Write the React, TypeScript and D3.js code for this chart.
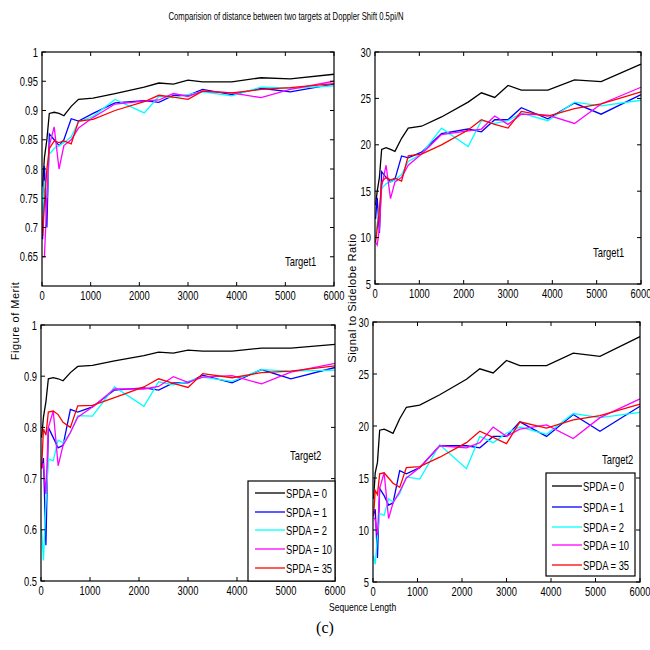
import React from 'react';
import * as d3 from 'd3';

// sequence lengths (shared by every curve)
const seqLen = [13, 50, 100, 150, 250, 350, 450, 600, 750, 1050, 1500, 2100, 2400, 2700, 3000, 3300, 3900, 4500, 5100, 6000];

const spdaLabels = ['SPDA = 0', 'SPDA = 1', 'SPDA = 2', 'SPDA = 10', 'SPDA = 35'];
const spdaColors = ['#000000', '#0000ff', '#00ffff', '#ff00ff', '#ff0000'];

// Figure of merit, target 1
const fom1Spda0 = [0.77, 0.82, 0.85, 0.895, 0.897, 0.895, 0.891, 0.907, 0.919, 0.921, 0.929, 0.94, 0.947, 0.945, 0.952, 0.949, 0.949, 0.956, 0.954, 0.962];
const fom1Spda1 = [0.68, 0.805, 0.7, 0.86, 0.85, 0.84, 0.85, 0.886, 0.882, 0.895, 0.913, 0.917, 0.914, 0.926, 0.926, 0.936, 0.927, 0.938, 0.932, 0.945];
const fom1Spda2 = [0.72, 0.78, 0.75, 0.825, 0.835, 0.84, 0.845, 0.855, 0.88, 0.89, 0.919, 0.896, 0.924, 0.922, 0.927, 0.932, 0.925, 0.94, 0.938, 0.942];
const fom1Spda10 = [0.65, 0.65, 0.75, 0.84, 0.872, 0.8, 0.84, 0.85, 0.87, 0.888, 0.911, 0.916, 0.918, 0.929, 0.924, 0.933, 0.93, 0.922, 0.936, 0.95];
const fom1Spda35 = [0.685, 0.74, 0.8, 0.835, 0.848, 0.845, 0.848, 0.843, 0.882, 0.885, 0.9, 0.915, 0.926, 0.923, 0.919, 0.933, 0.93, 0.936, 0.939, 0.946];

// Signal to sidelobe ratio, target 1
const ssr1Spda0 = [13.5, 15, 16.5, 19.5, 19.7, 19.5, 19.3, 20.7, 21.8, 22.0, 23.0, 24.6, 25.6, 25.1, 26.4, 25.9, 25.9, 27.0, 26.8, 28.7];
const ssr1Spda1 = [12, 14.3, 10.5, 17.1, 16.5, 16.0, 16.3, 18.8, 18.6, 19.2, 21.2, 21.7, 21.4, 22.7, 22.7, 24.0, 22.8, 24.5, 23.3, 25.4];
const ssr1Spda2 = [10, 11.5, 13, 15.3, 15.8, 16.0, 16.2, 16.8, 18.2, 19.0, 21.8, 19.8, 22.6, 22.3, 22.6, 23.4, 22.6, 24.6, 24.2, 24.8];
const ssr1Spda10 = [9.5, 9.2, 11, 15.5, 17.8, 14.2, 16.0, 16.5, 17.8, 19.0, 21.1, 21.5, 21.7, 23.1, 22.2, 23.3, 23.2, 22.3, 24.4, 26.2];
const ssr1Spda35 = [9.5, 11, 13, 16.0, 16.5, 16.2, 16.4, 16.1, 18.8, 19.0, 20.0, 21.6, 22.7, 22.2, 21.8, 23.6, 23.1, 23.9, 24.4, 25.7];

// Figure of merit, target 2
const fom2Spda0 = [0.78, 0.82, 0.85, 0.895, 0.897, 0.895, 0.891, 0.907, 0.919, 0.921, 0.93, 0.94, 0.947, 0.945, 0.951, 0.949, 0.949, 0.955, 0.955, 0.962];
const fom2Spda1 = [0.72, 0.74, 0.57, 0.8, 0.78, 0.76, 0.765, 0.835, 0.83, 0.84, 0.873, 0.877, 0.873, 0.887, 0.887, 0.902, 0.887, 0.913, 0.895, 0.917];
const fom2Spda2 = [0.6, 0.54, 0.65, 0.738, 0.735, 0.775, 0.77, 0.79, 0.823, 0.822, 0.879, 0.841, 0.889, 0.883, 0.89, 0.898, 0.89, 0.913, 0.91, 0.912];
const fom2Spda10 = [0.72, 0.73, 0.67, 0.8, 0.832, 0.725, 0.765, 0.79, 0.82, 0.84, 0.875, 0.875, 0.88, 0.899, 0.888, 0.898, 0.901, 0.885, 0.908, 0.925];
const fom2Spda35 = [0.72, 0.797, 0.785, 0.83, 0.832, 0.825, 0.81, 0.8, 0.842, 0.843, 0.858, 0.879, 0.895, 0.886, 0.878, 0.905, 0.897, 0.907, 0.91, 0.92];

// Signal to sidelobe ratio, target 2
const ssr2Spda0 = [13, 15.5, 16.5, 19.6, 19.7, 19.5, 19.3, 20.7, 21.8, 22.0, 23.0, 24.5, 25.5, 25.1, 26.3, 25.8, 25.8, 27.0, 26.7, 28.6];
const ssr2Spda1 = [11.5, 12, 7.3, 14, 13.3, 12.4, 12.6, 15.7, 15.4, 16.0, 18.1, 18.1, 17.9, 19.0, 19.0, 20.4, 19.0, 21.1, 19.5, 21.9];
const ssr2Spda2 = [7.5, 6.7, 9.5, 11.6, 11.4, 13.0, 12.7, 13.5, 15.1, 14.9, 18.2, 15.9, 19.0, 18.4, 19.3, 19.9, 19.2, 21.2, 20.8, 21.3];
const ssr2Spda10 = [11.2, 11, 9.5, 14, 15.5, 11.1, 12.6, 13.7, 15.0, 16.0, 18.1, 17.9, 18.4, 19.9, 19.0, 19.7, 20.1, 18.8, 20.8, 22.6];
const ssr2Spda35 = [11.3, 13.8, 13.4, 15.4, 15.5, 15.0, 14.5, 14.1, 16.0, 16.1, 17.0, 18.4, 19.5, 18.9, 18.3, 20.4, 19.8, 20.6, 21.0, 22.1];

const xTicks = [0, 1000, 2000, 3000, 4000, 5000, 6000];
const fom1Ticks = [0.65, 0.7, 0.75, 0.8, 0.85, 0.9, 0.95, 1];
const fom2Ticks = [0.5, 0.6, 0.7, 0.8, 0.9, 1];
const ssrTicks = [5, 10, 15, 20, 25, 30];

const sans = "'Liberation Sans', Arial, sans-serif";

// condensed text (the original uses a narrow Arial), squeezed horizontally
const NText = ({ x, y, anchor = 'start', size = 12.5, sx = 0.75, children }: any) => (
  <text transform={`translate(${x},${y}) scale(${sx},1)`} textAnchor={anchor} fontSize={size} fontFamily={sans}>
    {children}
  </text>
);

type PanelProps = {
  box: [number, number, number, number]; // x0, y0, x1, y1
  yDomain: [number, number];
  yTicks: number[];
  series: number[][];
  tag: string;
  tagPos: [number, number];
  legend?: { x: number; y: number; w: number; h: number; rowY: number[]; lineX: [number, number]; textX: number };
};

const Panel = ({ box, yDomain, yTicks, series, tag, tagPos, legend }: PanelProps) => {
  const [x0, y0, x1, y1] = box;
  const x = d3.scaleLinear().domain([0, 6000]).range([x0, x1]);
  const y = d3.scaleLinear().domain(yDomain).range([y1, y0]);
  const line = d3.line<number>().x((d, i) => x(seqLen[i])).y(d => y(d));
  const tl = 4;
  const fmt = (v: number) => String(+v.toFixed(2));

  return (
    <g>
      {series.map((s, i) => (
        <path key={i} d={line(s) || ''} fill="none" stroke={spdaColors[i]} strokeWidth={1.3} />
      ))}
      <rect x={x0} y={y0} width={x1 - x0} height={y1 - y0} fill="none" stroke="#000" strokeWidth={1.2} />
      {xTicks.map(t => (
        <g key={'x' + t}>
          <line x1={x(t)} x2={x(t)} y1={y1} y2={y1 - tl} stroke="#000" />
          <line x1={x(t)} x2={x(t)} y1={y0} y2={y0 + tl} stroke="#000" />
          <NText x={x(t)} y={y1 + 14} anchor="middle">{t}</NText>
        </g>
      ))}
      {yTicks.map(t => (
        <g key={'y' + t}>
          <line x1={x0} x2={x0 + tl} y1={y(t)} y2={y(t)} stroke="#000" />
          <line x1={x1} x2={x1 - tl} y1={y(t)} y2={y(t)} stroke="#000" />
          <NText x={x0 - 4} y={y(t) + 4.5} anchor="end">{fmt(t)}</NText>
        </g>
      ))}
      <NText x={tagPos[0]} y={tagPos[1]}>{tag}</NText>
      {legend && (
        <g>
          <rect x={legend.x} y={legend.y} width={legend.w} height={legend.h} fill="#fff" stroke="#000" strokeWidth={1.2} />
          {spdaLabels.map((lab, i) => (
            <g key={lab}>
              <line x1={legend.lineX[0]} x2={legend.lineX[1]} y1={legend.rowY[i]} y2={legend.rowY[i]} stroke={spdaColors[i]} strokeWidth={1.3} />
              <NText x={legend.textX} y={legend.rowY[i] + 4.5}>{lab}</NText>
            </g>
          ))}
        </g>
      )}
    </g>
  );
};

export default function App() {
  return (
    <svg width={650} height={650} style={{ position: 'absolute', left: 0, top: 0, background: '#fff' }}>
      <rect width={650} height={650} fill="#fff" />
      <NText x={286} y={20} anchor="middle" size={11} sx={0.7}>
        Comparision of distance between two targets at Doppler Shift 0.5pi/N
      </NText>

      <Panel box={[42, 52, 334, 286]} yDomain={[0.6, 1]} yTicks={fom1Ticks}
        series={[fom1Spda0, fom1Spda1, fom1Spda2, fom1Spda10, fom1Spda35]}
        tag="Target1" tagPos={[285, 266]} />
      <Panel box={[375, 52, 641, 284]} yDomain={[5, 30]} yTicks={ssrTicks}
        series={[ssr1Spda0, ssr1Spda1, ssr1Spda2, ssr1Spda10, ssr1Spda35]}
        tag="Target1" tagPos={[593, 257]} />
      <Panel box={[41, 325, 335, 581]} yDomain={[0.5, 1]} yTicks={fom2Ticks}
        series={[fom2Spda0, fom2Spda1, fom2Spda2, fom2Spda10, fom2Spda35]}
        tag="Target2" tagPos={[290, 460]}
        legend={{ x: 248, y: 481, w: 87, h: 100, rowY: [493, 512, 530, 549, 568], lineX: [255, 285], textX: 286 }} />
      <Panel box={[373, 322, 640, 582]} yDomain={[5, 30]} yTicks={ssrTicks}
        series={[ssr2Spda0, ssr2Spda1, ssr2Spda2, ssr2Spda10, ssr2Spda35]}
        tag="Target2" tagPos={[602, 464]}
        legend={{ x: 546, y: 473, w: 89, h: 103, rowY: [486, 507, 527, 545, 565], lineX: [552, 582], textX: 583 }} />

      <text transform="translate(19,321) rotate(-90)" textAnchor="middle" fontSize={11} fontFamily={sans} letterSpacing={0.5}>
        Figure of Merit
      </text>
      <text transform="translate(356,298) rotate(-90)" textAnchor="middle" fontSize={11} fontFamily={sans} letterSpacing={0.5}>
        Signal to Sidelobe Ratio
      </text>
      <NText x={329} y={611} anchor="start" size={11} sx={0.78}>Sequence Length</NText>
      <text x={325} y={633} textAnchor="middle" fontSize={16} fontFamily="'Liberation Serif', 'Times New Roman', serif">(c)</text>
    </svg>
  );
}
